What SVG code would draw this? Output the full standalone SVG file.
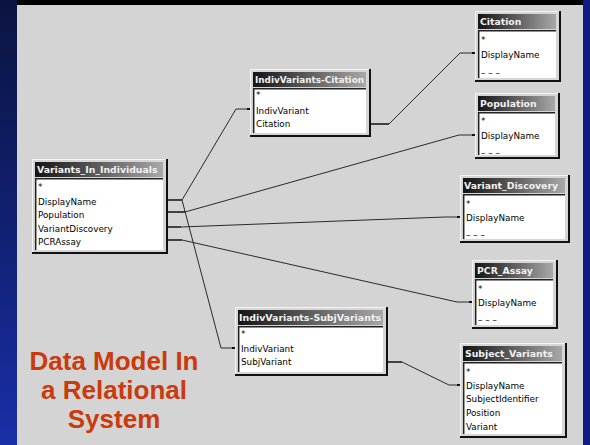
<svg xmlns="http://www.w3.org/2000/svg" width="590" height="445" viewBox="0 0 590 445">
  <defs>
    <linearGradient id="sideGrad" x1="0" y1="0" x2="0" y2="1">
      <stop offset="0" stop-color="#0b1440"/>
      <stop offset="0.5" stop-color="#102070"/>
      <stop offset="1" stop-color="#1a2ea8"/>
    </linearGradient>
    <linearGradient id="barGrad" x1="0" y1="0" x2="1" y2="0">
      <stop offset="0" stop-color="#141414"/>
      <stop offset="1" stop-color="#a8a8a8"/>
    </linearGradient>
    <style>
      .frame { fill: #d6d6d6; }
      .hl { fill: none; stroke: #f4f4f4; stroke-width: 1; }
      .sh { fill: none; stroke: #111; stroke-width: 2; }
      .bar { fill: url(#barGrad); }
      .fld { fill: #ffffff; }
      .inset { fill: none; stroke: #222; stroke-width: 1.5; }
      .ttl { font-family: "DejaVu Sans", sans-serif; font-weight: bold; font-size: 9.3px; fill: #f2f2f2; }
      .f { font-family: "DejaVu Sans", sans-serif; font-size: 8.8px; fill: #000; }
      .conn { fill: none; stroke: #2a2a2a; stroke-width: 1; }
      .stub { fill: none; stroke: #111; stroke-width: 1.5; }
      .big { font-family: "Liberation Sans", Arial, sans-serif; font-weight: bold; font-size: 26px; fill: #c93a0c; text-anchor: middle; }
    </style>
  </defs>

  <!-- slide background -->
  <rect x="0" y="0" width="590" height="445" fill="#0c1a8a"/>
  <rect x="0" y="0" width="17" height="445" fill="url(#sideGrad)"/>
  <rect x="17" y="0" width="566" height="5" fill="#000"/>
  <rect x="17" y="5" width="566" height="440" fill="#d4d4d4"/>

  <!-- relationship lines -->
  <g id="connectors">
    <polyline class="conn" points="182,200 236,109 248,109"/>
    <polyline class="conn" points="182,200 221,348 233,348"/>
    <polyline class="conn" points="185,212 459,135 473,135"/>
    <polyline class="conn" points="181,227 445,217 458,217"/>
    <polyline class="conn" points="182,240 457,302 470,302"/>
    <polyline class="conn" points="389,124 460,53 473,53"/>
    <polyline class="conn" points="402,362 449,385 458,385"/>
    <!-- stubs at the "one" side -->
    <path class="stub" d="M167,200 H182 M167,212 H185 M167,227 H181 M167,240 H182 M370,124 H389 M387,362 H402"/>
    <!-- end points at the "many" side -->
    <g fill="#111">
      <rect x="247" y="108" width="3" height="2"/>
      <rect x="232" y="347" width="3" height="2"/>
      <rect x="472" y="134" width="3" height="2"/>
      <rect x="457" y="216" width="3" height="2"/>
      <rect x="469" y="301" width="3" height="2"/>
      <rect x="472" y="52" width="3" height="2"/>
      <rect x="457" y="384" width="3" height="2"/>
    </g>
  </g>

  <!-- Variants_In_Individuals -->
  <g id="variants-in-individuals">
    <rect class="frame" x="32" y="159" width="135" height="94"/>
    <path class="hl" d="M32.5,253 V159.5 H167"/>
    <path class="sh" d="M167,159 V253 H32"/>
    <rect class="bar" x="35" y="162" width="128" height="15"/>
    <text class="ttl" x="37" y="173">Variants_In_Individuals</text>
    <rect class="fld" x="35" y="178" width="128" height="72"/>
    <path class="inset" d="M35.7,250 V178.7 H163"/>
    <text class="f" x="38" y="190">*</text>
    <text class="f" x="38" y="204.5">DisplayName</text>
    <text class="f" x="38" y="217.5">Population</text>
    <text class="f" x="38" y="231.5">VariantDiscovery</text>
    <text class="f" x="38" y="244.5">PCRAssay</text>
  </g>

  <!-- IndivVariants-Citation -->
  <g id="indivvariants-citation">
    <rect class="frame" x="250" y="69" width="120" height="67"/>
    <path class="hl" d="M250.5,136 V69.5 H370"/>
    <path class="sh" d="M370,69 V136 H250"/>
    <rect class="bar" x="253" y="72" width="113" height="15"/>
    <text class="ttl" x="255" y="83" textLength="109" lengthAdjust="spacingAndGlyphs">IndivVariants-Citation</text>
    <rect class="fld" x="253" y="88" width="113" height="45"/>
    <path class="inset" d="M253.7,133 V88.7 H366"/>
    <text class="f" x="256" y="97.5">*</text>
    <text class="f" x="256" y="113.5">IndivVariant</text>
    <text class="f" x="256" y="127">Citation</text>
  </g>

  <!-- Citation -->
  <g id="citation">
    <rect class="frame" x="475" y="11" width="85" height="70"/>
    <path class="hl" d="M475.5,81 V11.5 H560"/>
    <path class="sh" d="M560,11 V81 H475"/>
    <rect class="bar" x="478" y="14" width="78" height="15"/>
    <text class="ttl" x="480" y="25">Citation</text>
    <rect class="fld" x="478" y="30" width="78" height="48"/>
    <path class="inset" d="M478.7,78 V30.7 H556"/>
    <text class="f" x="481" y="42.5">*</text>
    <text class="f" x="481" y="57.5">DisplayName</text>
    <text class="f" x="481" y="76">– – –</text>
  </g>

  <!-- Population -->
  <g id="population">
    <rect class="frame" x="475" y="93" width="84" height="65"/>
    <path class="hl" d="M475.5,158 V93.5 H559"/>
    <path class="sh" d="M559,93 V158 H475"/>
    <rect class="bar" x="478" y="96" width="77" height="15"/>
    <text class="ttl" x="480" y="107">Population</text>
    <rect class="fld" x="478" y="112" width="77" height="43"/>
    <path class="inset" d="M478.7,155 V112.7 H555"/>
    <text class="f" x="481" y="123.5">*</text>
    <text class="f" x="481" y="139">DisplayName</text>
    <text class="f" x="481" y="156">– – –</text>
  </g>

  <!-- Variant_Discovery -->
  <g id="variant-discovery">
    <rect class="frame" x="460" y="175" width="109" height="67"/>
    <path class="hl" d="M460.5,242 V175.5 H569"/>
    <path class="sh" d="M569,175 V242 H460"/>
    <rect class="bar" x="463" y="178" width="102" height="15"/>
    <text class="ttl" x="464" y="189">Variant_Discovery</text>
    <rect class="fld" x="463" y="194" width="102" height="45"/>
    <path class="inset" d="M463.7,239 V194.7 H565"/>
    <text class="f" x="466" y="206.5">*</text>
    <text class="f" x="466" y="221">DisplayName</text>
    <text class="f" x="466" y="238">– – –</text>
  </g>

  <!-- PCR_Assay -->
  <g id="pcr-assay">
    <rect class="frame" x="472" y="260" width="85" height="68"/>
    <path class="hl" d="M472.5,328 V260.5 H557"/>
    <path class="sh" d="M557,260 V328 H472"/>
    <rect class="bar" x="475" y="263" width="78" height="15"/>
    <text class="ttl" x="477" y="274">PCR_Assay</text>
    <rect class="fld" x="475" y="279" width="78" height="46"/>
    <path class="inset" d="M475.7,325 V279.7 H553"/>
    <text class="f" x="478" y="291.5">*</text>
    <text class="f" x="478" y="306">DisplayName</text>
    <text class="f" x="478" y="323">– – –</text>
  </g>

  <!-- IndivVariants-SubjVariants -->
  <g id="indivvariants-subjvariants">
    <rect class="frame" x="235" y="307" width="152" height="68"/>
    <path class="hl" d="M235.5,375 V307.5 H387"/>
    <path class="sh" d="M387,307 V375 H235"/>
    <rect class="bar" x="238" y="310" width="145" height="15"/>
    <text class="ttl" x="239" y="321" textLength="142" lengthAdjust="spacingAndGlyphs">IndivVariants-SubjVariants</text>
    <rect class="fld" x="238" y="326" width="145" height="46"/>
    <path class="inset" d="M238.7,372 V326.7 H383"/>
    <text class="f" x="241" y="336.5">*</text>
    <text class="f" x="241" y="352">IndivVariant</text>
    <text class="f" x="241" y="365">SubjVariant</text>
  </g>

  <!-- Subject_Variants -->
  <g id="subject-variants">
    <rect class="frame" x="460" y="343" width="106" height="94"/>
    <path class="hl" d="M460.5,437 V343.5 H566"/>
    <path class="sh" d="M566,343 V437 H460"/>
    <rect class="bar" x="463" y="346" width="99" height="15"/>
    <text class="ttl" x="465" y="357">Subject_Variants</text>
    <rect class="fld" x="463" y="362" width="99" height="72"/>
    <path class="inset" d="M463.7,434 V362.7 H562"/>
    <text class="f" x="466" y="374.5">*</text>
    <text class="f" x="466" y="389">DisplayName</text>
    <text class="f" x="466" y="402">SubjectIdentifier</text>
    <text class="f" x="466" y="416">Position</text>
    <text class="f" x="466" y="430">Variant</text>
  </g>

  <!-- slide caption -->
  <g id="caption">
    <text class="big" x="114" y="370">Data Model In</text>
    <text class="big" x="114" y="399">a Relational</text>
    <text class="big" x="114" y="428">System</text>
  </g>
</svg>
